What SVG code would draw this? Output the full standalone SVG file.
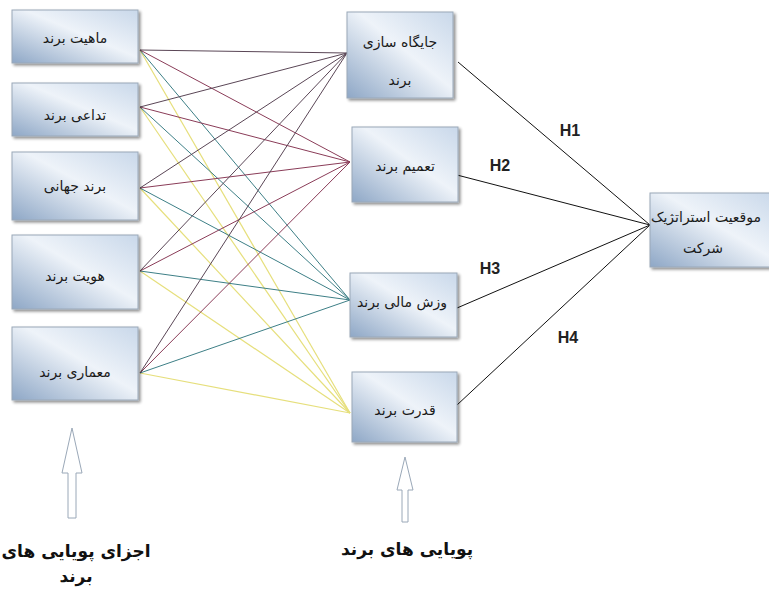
<svg xmlns="http://www.w3.org/2000/svg" width="769" height="590" viewBox="0 0 769 590">
<defs>
<linearGradient id="bg" x1="1" y1="0" x2="0" y2="1">
<stop offset="0" stop-color="#c9d8ea"/>
<stop offset="0.45" stop-color="#eef3f9"/>
<stop offset="1" stop-color="#8ea7c6"/>
</linearGradient>
<filter id="sh" x="-10%" y="-10%" width="130%" height="130%">
<feGaussianBlur in="SourceAlpha" stdDeviation="1.5"/>
<feOffset dx="2" dy="2" result="b"/>
<feComponentTransfer><feFuncA type="linear" slope="0.45"/></feComponentTransfer>
<feMerge><feMergeNode/><feMergeNode in="SourceGraphic"/></feMerge>
</filter>
</defs>
<style>
.box{fill:url(#bg);stroke:#9aa8b8;stroke-width:1;filter:url(#sh)}
.t{font-family:"DejaVu Sans",sans-serif;font-size:14px;fill:#1a1a1a;text-anchor:middle}
.h{font-family:"Liberation Sans",Arial,sans-serif;font-size:16px;font-weight:bold;fill:#222;text-anchor:middle}
.b{font-family:"DejaVu Sans",sans-serif;font-size:17px;font-weight:bold;fill:#111;text-anchor:middle}
.cA{stroke:#5a4656;stroke-width:1;fill:none}
.cB{stroke:#8a3c58;stroke-width:1;fill:none}
.cC{stroke:#3d7f86;stroke-width:1;fill:none}
.cD{stroke:#e6df7c;stroke-width:1.2;fill:none}
.hl{stroke:#111;stroke-width:1;fill:none}
.arr{fill:#fff;stroke:#9aa8b8;stroke-width:1}
</style>
<rect width="769" height="590" fill="#fff"/>
<g id="connectors">
<line class="cD" x1="140" y1="50" x2="350" y2="413"/>
<line class="cD" x1="140" y1="107" x2="350" y2="413"/>
<line class="cD" x1="140" y1="188" x2="350" y2="413"/>
<line class="cD" x1="140" y1="271" x2="350" y2="413"/>
<line class="cD" x1="140" y1="373" x2="350" y2="413"/>
<line class="cC" x1="140" y1="50" x2="350" y2="300"/>
<line class="cC" x1="140" y1="107" x2="350" y2="300"/>
<line class="cC" x1="140" y1="188" x2="350" y2="300"/>
<line class="cC" x1="140" y1="271" x2="350" y2="300"/>
<line class="cC" x1="140" y1="373" x2="350" y2="300"/>
<line class="cB" x1="140" y1="50" x2="350" y2="162"/>
<line class="cB" x1="140" y1="107" x2="350" y2="162"/>
<line class="cB" x1="140" y1="188" x2="350" y2="162"/>
<line class="cB" x1="140" y1="271" x2="350" y2="162"/>
<line class="cB" x1="140" y1="373" x2="350" y2="162"/>
<line class="cA" x1="140" y1="50" x2="347" y2="53"/>
<line class="cA" x1="140" y1="107" x2="347" y2="53"/>
<line class="cA" x1="140" y1="188" x2="347" y2="53"/>
<line class="cA" x1="140" y1="271" x2="347" y2="53"/>
<line class="cA" x1="140" y1="373" x2="347" y2="53"/>
<line class="hl" x1="458" y1="62" x2="650" y2="225"/>
<line class="hl" x1="457" y1="175" x2="650" y2="225"/>
<line class="hl" x1="457" y1="308" x2="650" y2="225"/>
<line class="hl" x1="457" y1="405" x2="650" y2="225"/>
<text class="h" x="570" y="136">H1</text>
<text class="h" x="500" y="171">H2</text>
<text class="h" x="490" y="274">H3</text>
<text class="h" x="568" y="343">H4</text>
</g>
<g id="n1"><rect class="box" x="12" y="10" width="126" height="53"/><text class="t" x="75" y="43">ماهیت برند</text></g>
<g id="n2"><rect class="box" x="12" y="83" width="126" height="53"/><text class="t" x="75" y="120">تداعی برند</text></g>
<g id="n3"><rect class="box" x="12" y="152" width="126" height="68"/><text class="t" x="75" y="191">برند جهانی</text></g>
<g id="n4"><rect class="box" x="12" y="235" width="126" height="74"/><text class="t" x="75" y="281">هویت برند</text></g>
<g id="n5"><rect class="box" x="12" y="327" width="126" height="73"/><text class="t" x="75" y="377">معماری برند</text></g>
<g id="m1"><rect class="box" x="347" y="12" width="106" height="86"/><text class="t" x="400" y="47">جایگاه سازی</text><text class="t" x="400" y="85">برند</text></g>
<g id="m2"><rect class="box" x="352" y="127" width="106" height="75"/><text class="t" x="405" y="171">تعمیم برند</text></g>
<g id="m3"><rect class="box" x="350" y="273" width="107" height="64"/><text class="t" x="402" y="307">وزش مالی برند</text></g>
<g id="m4"><rect class="box" x="352" y="372" width="105" height="70"/><text class="t" x="405" y="415">قدرت برند</text></g>
<g id="r1"><rect class="box" x="650" y="193" width="125" height="74"/><text class="t" x="706" y="222">موقعیت استراتژیک</text><text class="t" x="703" y="253">شرکت</text></g>
<g id="a1"><path class="arr" d="M72 428 L82 473 L76 473 L76 518 L68 518 L68 473 L62 473 Z"/></g>
<g id="a2"><path class="arr" d="M405 457 L413 490 L408 490 L408 522 L402 522 L402 490 L397 490 Z"/></g>
<g id="l1"><text class="b" x="76" y="557">اجزای پویایی های</text><text class="b" x="76" y="582">برند</text></g>
<g id="l2"><text class="b" x="407" y="555">پویایی های برند</text></g>
</svg>
